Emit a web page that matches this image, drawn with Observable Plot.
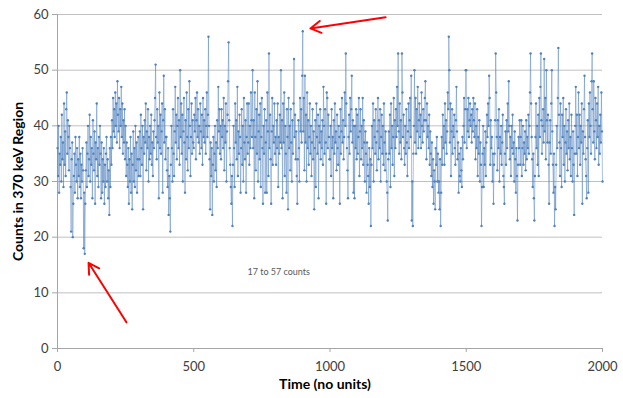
<!DOCTYPE html>
<html>
<head>
<meta charset="utf-8">
<script src="https://cdn.jsdelivr.net/npm/d3@7"></script>
<script src="https://cdn.jsdelivr.net/npm/@observablehq/plot@0.6"></script>
<style>
  html, body { margin: 0; padding: 0; background: #fff; }
  #chart svg { display: block; }
</style>
</head>
<body>
<div id="chart"></div>
<script>
const timeStep = 2;
// Counts, 50 readings per 100 time units
const counts = [
  36,31,40,28,35,33,38,30,42,34,37,29,44,33,39,31,43,46,35,41,38,32,40,36,29,21,34,37,20,26,31,35,28,38,33,30,36,27,34,31,38,29,35,27,33,30,36,32,18,28,
  17,26,32,37,29,35,40,31,34,42,30,38,33,36,27,41,35,32,39,26,37,34,44,31,36,29,38,33,40,35,27,37,28,34,30,36,26,33,29,35,38,30,34,27,32,24,36,29,38,33,
  41,36,45,39,43,38,46,40,44,37,48,42,39,45,36,43,40,47,38,44,35,41,37,43,34,40,31,37,33,29,36,26,34,30,38,28,35,25,33,39,30,36,29,40,32,37,28,34,38,31,
  34,39,31,42,36,33,40,25,38,35,41,37,44,32,39,36,43,30,38,34,40,35,42,33,37,31,39,36,41,45,51,38,34,43,37,40,27,46,36,42,35,39,44,28,41,49,37,43,34,38,
  38,32,29,36,24,31,27,21,33,40,36,30,43,35,31,39,47,37,42,34,40,45,36,41,33,50,38,44,35,42,30,39,45,37,28,41,34,46,38,32,43,36,48,40,31,38,44,35,41,37,
  36,42,39,45,34,41,46,38,43,37,40,35,44,39,36,42,33,45,38,41,37,43,35,40,46,38,42,56,40,34,25,37,31,36,24,33,38,30,35,40,32,37,29,41,36,47,39,43,35,40,
  34,43,38,41,36,45,32,40,37,44,30,39,42,48,55,41,36,33,29,26,31,22,33,40,36,29,44,37,41,34,47,31,39,35,42,38,28,36,43,33,40,30,45,37,34,41,28,38,44,35,
  37,44,33,40,36,46,41,38,50,36,41,27,46,38,32,43,35,48,30,39,42,34,44,29,38,45,36,26,40,35,43,28,37,41,28,46,39,31,53,36,42,34,26,39,45,33,40,37,44,35,
  38,33,41,36,44,29,38,35,42,37,50,36,41,27,44,37,46,31,40,35,28,43,38,25,45,36,40,32,43,37,30,41,35,44,52,38,42,34,39,31,26,34,41,36,30,45,39,43,37,49,
  57,39,45,32,49,37,42,30,46,36,41,33,38,44,35,40,31,37,43,34,39,25,36,41,29,44,38,35,42,27,40,37,43,34,39,36,41,33,47,40,35,43,37,26,46,45,36,42,38,34,
  34,40,31,43,36,38,27,41,35,44,37,39,32,42,36,33,40,38,26,43,35,39,45,37,41,34,38,46,40,53,44,36,32,27,38,42,35,45,39,43,49,37,41,28,40,27,40,36,43,34,
  42,35,38,45,31,39,43,34,40,36,45,33,41,37,30,39,35,28,37,33,31,26,36,29,34,22,33,40,36,44,30,41,38,35,43,37,32,39,45,34,41,36,43,30,38,42,35,40,33,44,
  37,32,39,35,30,28,23,34,39,35,42,29,44,36,40,33,38,45,31,41,36,43,38,47,40,53,39,35,44,37,41,34,53,46,38,42,36,33,40,35,43,37,31,39,44,36,41,45,38,49,
  23,30,22,35,40,50,37,45,35,43,39,47,36,41,44,38,42,36,46,40,37,43,39,41,45,48,41,34,44,38,40,36,42,33,39,35,31,37,29,34,26,32,30,25,36,33,38,30,35,28,
  30,25,34,22,28,38,33,42,36,40,33,44,37,41,35,39,46,43,56,50,37,44,31,39,43,35,40,38,42,36,33,41,47,39,34,37,28,35,31,30,36,32,29,38,34,40,45,37,43,50,
  50,36,43,39,45,38,41,44,40,42,37,43,39,45,41,38,44,34,40,36,43,31,38,35,41,30,37,33,22,29,35,40,29,36,33,39,31,37,42,38,44,40,49,45,33,41,36,38,30,35,
  26,33,35,41,53,46,38,32,41,36,43,30,38,35,40,33,37,42,31,29,26,35,39,33,41,36,44,39,48,40,34,38,31,40,36,42,35,37,30,39,34,28,36,31,23,33,38,36,41,33,
  38,41,31,36,40,33,37,35,39,32,41,34,38,36,42,35,40,46,53,44,38,34,29,35,27,23,31,38,44,36,40,33,42,31,45,38,47,53,41,35,40,43,37,52,39,45,34,50,41,37,
  42,33,26,37,41,35,44,50,39,33,28,35,22,29,25,33,40,36,45,54,42,37,31,44,36,29,42,38,45,33,40,30,37,43,35,39,32,41,36,44,34,38,31,42,36,30,39,33,24,35,
  40,47,35,42,31,38,46,36,42,33,40,37,44,26,39,35,43,49,38,34,31,27,36,41,28,44,38,46,40,35,48,53,43,37,48,39,34,45,41,36,44,38,47,33,40,35,42,37,46,39,
  30
];
const xTicks = [0, 500, 1000, 1500, 2000];
const yTicks = [0, 10, 20, 30, 40, 50, 60];
const xTitle = "Time (no units)";
const yTitle = "Counts in 370 keV Region";
const noteText = ["17 to 57 counts"];
const noteX = [697];
const noteY = [13.8];
// red arrows (start -> end, in data units)
const arrowX1 = [1204, 253];
const arrowY1 = [59.5, 4.7];
const arrowX2 = [928, 114];
const arrowY2 = [57.5, 15.4];

const series = counts.map((c, i) => ({t: i * timeStep, c}));
const notes = noteText.map((s, i) => ({s, x: noteX[i], y: noteY[i]}));
const arrows = arrowX1.map((x1, i) => ({x1, y1: arrowY1[i], x2: arrowX2[i], y2: arrowY2[i]}));

const blue = "#4f81bd";
const font = "Lato, 'Open Sans', sans-serif";

const chart = Plot.plot({
  width: 623,
  height: 398,
  marginLeft: 57,
  marginRight: 21,
  marginTop: 14,
  marginBottom: 50,
  style: {fontFamily: font, fontSize: "12px", color: "#404040", background: "#fff"},
  x: {domain: [0, 2000]},
  y: {domain: [0, 60]},
  marks: [
    Plot.gridY(yTicks.filter(d => d > 0), {stroke: "#c0c0c0", strokeOpacity: 1, strokeWidth: 1}),
    Plot.ruleY([0], {stroke: "#a6a6a6"}),
    Plot.ruleX([0], {stroke: "#a6a6a6"}),
    Plot.axisY(yTicks, {tickSize: 5, tickPadding: 4, stroke: "#a6a6a6", fill: "#404040", fontSize: 13, label: null}),
    Plot.axisX(xTicks, {tickSize: 4, tickPadding: 9, stroke: "#a6a6a6", fill: "#404040", fontSize: 13, label: null, tickFormat: d => String(d)}),
    Plot.line(series, {x: "t", y: "c", stroke: blue, strokeWidth: 0.8, strokeOpacity: 0.6}),
    Plot.dot(series, {x: "t", y: "c", r: 1.2, fill: blue, stroke: null}),
    Plot.text(notes, {x: "x", y: "y", text: "s", textAnchor: "start", fontSize: 9, fill: "#595959"}),
    Plot.arrow(arrows, {x1: "x1", y1: "y1", x2: "x2", y2: "y2", stroke: "#ff0000", strokeWidth: 2, headLength: 9, bend: 0}),
    Plot.text([yTitle], {frameAnchor: "left", textAnchor: "middle", dx: -39, rotate: -90, fontWeight: "bold", fontSize: 14, fill: "#000"}),
    Plot.text([xTitle], {frameAnchor: "bottom", textAnchor: "middle", dx: -5, dy: 40, fontWeight: "bold", fontSize: 14, fill: "#000"})
  ]
});
document.getElementById("chart").appendChild(chart);
</script>
</body>
</html>
